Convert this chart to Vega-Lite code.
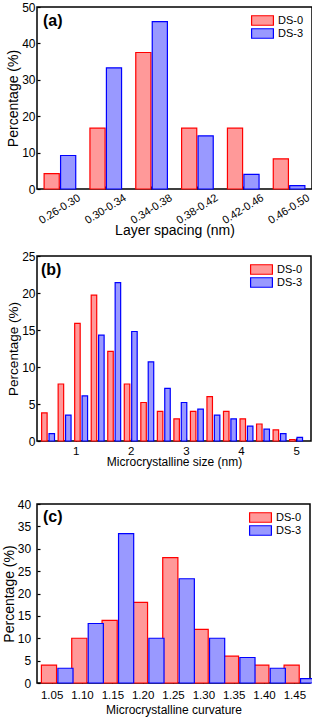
{
  "$schema": "https://vega.github.io/schema/vega-lite/v6.json",
  "background": "white",
  "padding": {"left": 1, "top": 0, "right": 0, "bottom": 0},
  "config": {
    "font": "Liberation Sans",
    "view": {"stroke": "black", "strokeWidth": 1.5},
    "axis": {"grid": false, "domain": false, "tickColor": "black", "tickSize": -3, "tickWidth": 1.2, "labelColor": "black", "titleColor": "black", "titleFontWeight": "normal", "labelFont": "Liberation Sans", "titleFont": "Liberation Sans"},
    "legend": {"orient": "top-right", "offset": 8, "padding": 0, "rowPadding": -5, "labelFontSize": 11, "labelColor": "black", "labelOffset": 10, "symbolType": "M-2.3,-1H2.3V1H-2.3Z", "symbolSize": 90, "symbolStrokeWidth": 1.2, "title": null},
    "title": {"anchor": "start", "frame": "group", "fontSize": 16, "fontWeight": "bold", "color": "black", "font": "Liberation Sans"}
  },
  "concat": [
    {
      "concat": [
        {
          "width": 275,
          "height": 182,
          "title": {"text": "(a)", "offset": -28, "dx": 6},
          "data": {"values": [
            {"range": "0.26-0.30", "series": "DS-0", "pct": 4.2},
            {"range": "0.30-0.34", "series": "DS-0", "pct": 16.7},
            {"range": "0.34-0.38", "series": "DS-0", "pct": 37.5},
            {"range": "0.38-0.42", "series": "DS-0", "pct": 16.7},
            {"range": "0.42-0.46", "series": "DS-0", "pct": 16.7},
            {"range": "0.46-0.50", "series": "DS-0", "pct": 8.3},
            {"range": "0.26-0.30", "series": "DS-3", "pct": 9.2},
            {"range": "0.30-0.34", "series": "DS-3", "pct": 33.3},
            {"range": "0.34-0.38", "series": "DS-3", "pct": 46.0},
            {"range": "0.38-0.42", "series": "DS-3", "pct": 14.6},
            {"range": "0.42-0.46", "series": "DS-3", "pct": 4.0},
            {"range": "0.46-0.50", "series": "DS-3", "pct": 0.9}
          ]},
          "mark": {"type": "bar", "strokeWidth": 1.2},
          "encoding": {
            "x": {"field": "range", "type": "nominal", "sort": null,
                  "scale": {"paddingInner": 0.31, "paddingOuter": 0.155},
                  "axis": {"title": "Layer spacing (nm)", "labelAngle": -32, "labelAlign": "center", "labelBaseline": "middle", "labelPadding": 23, "labelFontSize": 11, "titleFontSize": 14, "titlePadding": -2}},
            "xOffset": {"field": "series", "type": "nominal", "scale": {"paddingInner": 0.08}},
            "y": {"field": "pct", "type": "quantitative", "scale": {"domain": [0, 50]},
                  "axis": {"title": "Percentage (%)", "values": [0, 10, 20, 30, 40, 50], "labelFontSize": 12, "titleFontSize": 14, "labelPadding": 5, "titlePadding": 1}},
            "fill": {"field": "series", "type": "nominal", "scale": {"domain": ["DS-0", "DS-3"], "range": ["#ff9999", "#9999ff"]}},
            "stroke": {"field": "series", "type": "nominal", "scale": {"domain": ["DS-0", "DS-3"], "range": ["#ff0000", "#0000ff"]}}
          }
        },
        {
          "width": 274,
          "height": 185,
          "title": {"text": "(b)", "offset": -28, "dx": 4},
          "data": {"values": [
            {"size": 0.5, "series": "DS-0", "pct": 3.8},
            {"size": 0.8, "series": "DS-0", "pct": 7.7},
            {"size": 1.1, "series": "DS-0", "pct": 15.9},
            {"size": 1.4, "series": "DS-0", "pct": 19.7},
            {"size": 1.7, "series": "DS-0", "pct": 12.1},
            {"size": 2.0, "series": "DS-0", "pct": 7.7},
            {"size": 2.3, "series": "DS-0", "pct": 5.2},
            {"size": 2.6, "series": "DS-0", "pct": 4.0},
            {"size": 2.9, "series": "DS-0", "pct": 3.0},
            {"size": 3.2, "series": "DS-0", "pct": 4.0},
            {"size": 3.5, "series": "DS-0", "pct": 6.0},
            {"size": 3.8, "series": "DS-0", "pct": 4.0},
            {"size": 4.1, "series": "DS-0", "pct": 3.0},
            {"size": 4.4, "series": "DS-0", "pct": 2.3},
            {"size": 4.7, "series": "DS-0", "pct": 1.5},
            {"size": 5.0, "series": "DS-0", "pct": 0.2},
            {"size": 0.5, "series": "DS-3", "pct": 1.0},
            {"size": 0.8, "series": "DS-3", "pct": 3.5},
            {"size": 1.1, "series": "DS-3", "pct": 6.1},
            {"size": 1.4, "series": "DS-3", "pct": 14.3},
            {"size": 1.7, "series": "DS-3", "pct": 21.4},
            {"size": 2.0, "series": "DS-3", "pct": 14.8},
            {"size": 2.3, "series": "DS-3", "pct": 10.7},
            {"size": 2.6, "series": "DS-3", "pct": 7.1},
            {"size": 2.9, "series": "DS-3", "pct": 5.2},
            {"size": 3.2, "series": "DS-3", "pct": 4.3},
            {"size": 3.5, "series": "DS-3", "pct": 3.5},
            {"size": 3.8, "series": "DS-3", "pct": 3.0},
            {"size": 4.1, "series": "DS-3", "pct": 2.0},
            {"size": 4.4, "series": "DS-3", "pct": 1.6},
            {"size": 4.7, "series": "DS-3", "pct": 1.0},
            {"size": 5.0, "series": "DS-3", "pct": 0.5}
          ]},
          "encoding": {
            "x": {"field": "size", "type": "quantitative", "scale": {"domain": [0.39, 5.18], "nice": false, "zero": false},
                  "axis": {"title": "Microcrystalline size (nm)", "values": [1, 2, 3, 4, 5], "labelFontSize": 11.5, "titleFontSize": 12, "labelPadding": 7, "titlePadding": 0}},
            "y": {"field": "pct", "type": "quantitative", "scale": {"domain": [0, 25]},
                  "axis": {"title": "Percentage (%)", "values": [0, 5, 10, 15, 20, 25], "labelFontSize": 12, "titleFontSize": 13.5, "labelPadding": 5, "titlePadding": 1}},
            "fill": {"field": "series", "type": "nominal", "scale": {"domain": ["DS-0", "DS-3"], "range": ["#ff9999", "#9999ff"]}},
            "stroke": {"field": "series", "type": "nominal", "scale": {"domain": ["DS-0", "DS-3"], "range": ["#ff0000", "#0000ff"]}}
          },
          "layer": [
            {"transform": [{"filter": "datum.series === 'DS-0'"}], "mark": {"type": "bar", "width": 5.5, "xOffset": -3.7, "strokeWidth": 1.2}},
            {"transform": [{"filter": "datum.series === 'DS-3'"}], "mark": {"type": "bar", "width": 5.5, "xOffset": 3.7, "strokeWidth": 1.2}}
          ]
        }
      ],
      "columns": 1,
      "align": "none",
      "spacing": 10,
      "resolve": {"scale": {"fill": "independent", "stroke": "independent"}, "legend": {"fill": "independent", "stroke": "independent"}}
    },
    {
      "width": 273,
      "height": 179,
      "title": {"text": "(c)", "offset": -27, "dx": 6},
      "data": {"values": [
        {"curv": "1.05", "series": "DS-0", "pct": 4.0},
        {"curv": "1.10", "series": "DS-0", "pct": 10.0},
        {"curv": "1.15", "series": "DS-0", "pct": 14.0},
        {"curv": "1.20", "series": "DS-0", "pct": 18.0},
        {"curv": "1.25", "series": "DS-0", "pct": 28.0},
        {"curv": "1.30", "series": "DS-0", "pct": 12.0},
        {"curv": "1.35", "series": "DS-0", "pct": 6.0},
        {"curv": "1.40", "series": "DS-0", "pct": 4.0},
        {"curv": "1.45", "series": "DS-0", "pct": 4.0},
        {"curv": "1.05", "series": "DS-3", "pct": 3.3},
        {"curv": "1.10", "series": "DS-3", "pct": 13.3},
        {"curv": "1.15", "series": "DS-3", "pct": 33.4},
        {"curv": "1.20", "series": "DS-3", "pct": 10.0},
        {"curv": "1.25", "series": "DS-3", "pct": 23.3},
        {"curv": "1.30", "series": "DS-3", "pct": 10.0},
        {"curv": "1.35", "series": "DS-3", "pct": 5.7},
        {"curv": "1.40", "series": "DS-3", "pct": 3.3},
        {"curv": "1.45", "series": "DS-3", "pct": 1.0}
      ]},
      "mark": {"type": "bar", "strokeWidth": 1.2},
      "encoding": {
        "x": {"field": "curv", "type": "nominal", "sort": null,
              "scale": {"paddingInner": 0.29, "paddingOuter": 0.145},
              "axis": {"title": "Microcrystalline curvature", "labelAngle": 0, "labelFontSize": 11.5, "titleFontSize": 12, "labelPadding": 9, "titlePadding": 4}},
        "xOffset": {"field": "series", "type": "nominal", "scale": {"paddingInner": 0.05}},
        "y": {"field": "pct", "type": "quantitative", "scale": {"domain": [0, 40]},
              "axis": {"title": "Percentage (%)", "values": [0, 5, 10, 15, 20, 25, 30, 35, 40], "labelFontSize": 12, "titleFontSize": 14, "labelPadding": 9.4, "titlePadding": 1}},
        "fill": {"field": "series", "type": "nominal", "scale": {"domain": ["DS-0", "DS-3"], "range": ["#ff9999", "#9999ff"]}},
        "stroke": {"field": "series", "type": "nominal", "scale": {"domain": ["DS-0", "DS-3"], "range": ["#ff0000", "#0000ff"]}}
      }
    }
  ],
  "columns": 1,
  "align": "none",
  "spacing": 28,
  "resolve": {"scale": {"fill": "independent", "stroke": "independent"}, "legend": {"fill": "independent", "stroke": "independent"}}
}
